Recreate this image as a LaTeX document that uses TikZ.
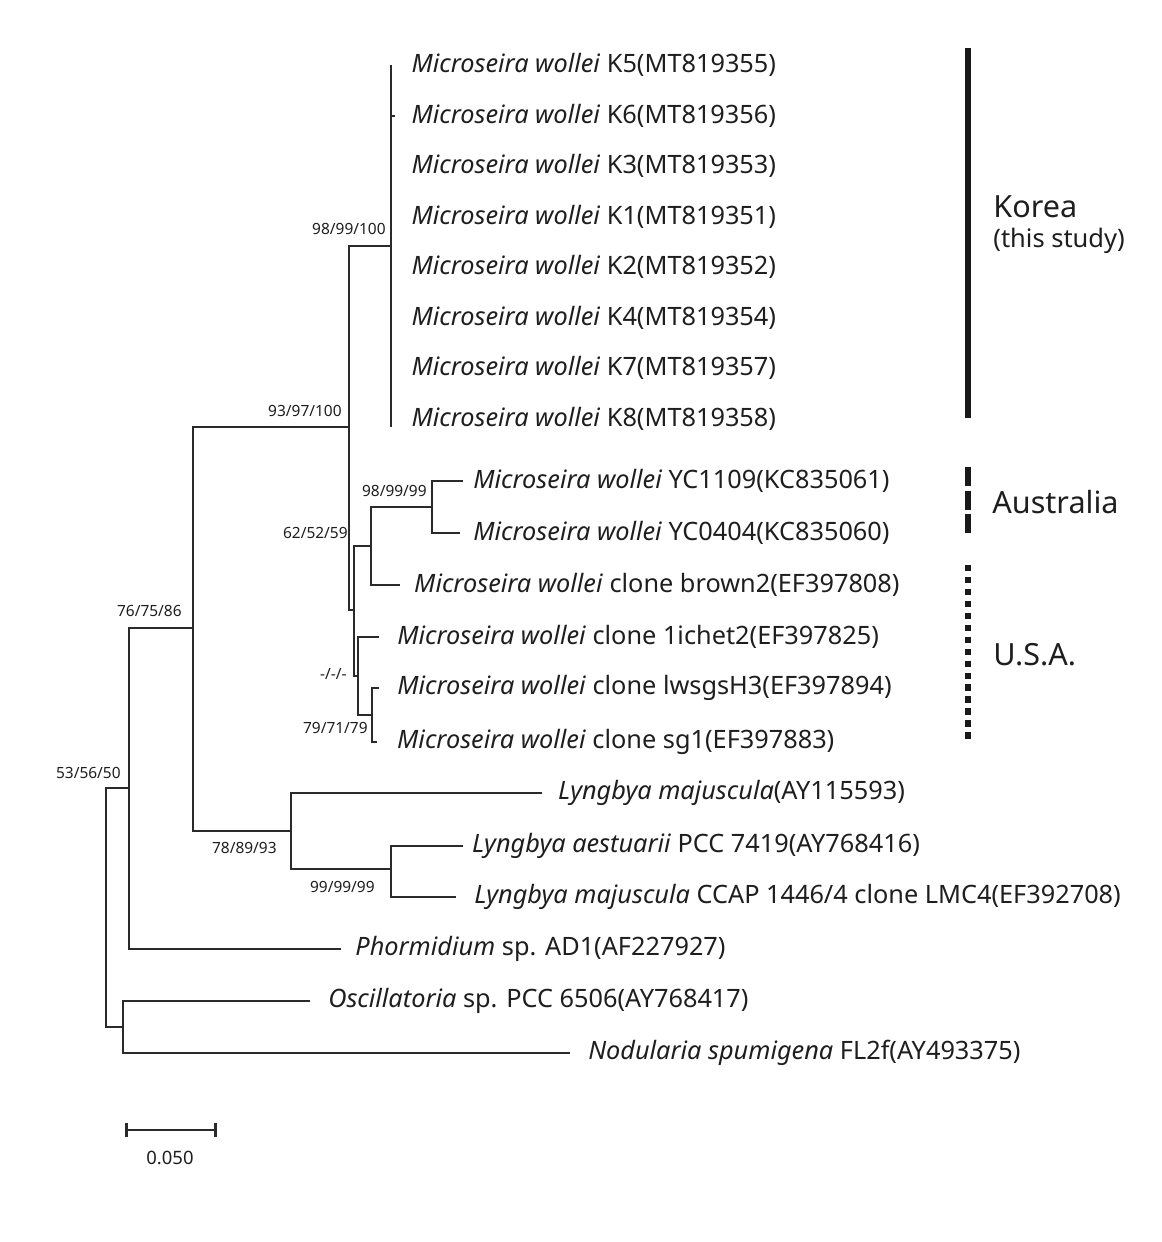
\documentclass[tikz,border=0pt]{standalone}
\usepackage{fontspec}
\setmainfont{Noto Sans}
\usetikzlibrary{arrows.meta, positioning}
\definecolor{treeline}{HTML}{2A2A2A}
\definecolor{treetext}{HTML}{1E1E1E}

\begin{document}
\begin{tikzpicture}[
    x=0.02cm, y=-0.02cm,
    branch/.style={draw=treeline, line width=1.6pt},
    taxon/.style={anchor=west, inner xsep=#1, inner ysep=0pt, text=treetext, font=\fontsize{14.4}{17}\selectfont},
    taxon/.default=7pt,
    boot/.style={anchor=east, inner sep=0pt, text=treetext, font=\fontsize{8.8}{10}\selectfont},
    region/.style={anchor=west, inner sep=0pt, text=treetext, font=\fontsize{17.4}{20}\selectfont},
    groupbar/.style={draw=black!90, line width=3.4pt}
]
\useasboundingbox (0,0) rectangle (1162,1242);

% Internal nodes
\coordinate (root) at (106,907);
\coordinate (n1) at (129,788);
\coordinate (n2) at (193,628);
\coordinate (n3) at (349,427);
\coordinate (kor) at (391,246);
\coordinate (korbot) at (391,427);
\coordinate (nb) at (354,610);
\coordinate (nc) at (371,546);
\coordinate (nf) at (432,507);
\coordinate (nd) at (358,676);
\coordinate (ne) at (372,715);
\coordinate (nl) at (291,831);
\coordinate (nm) at (391,869);
\coordinate (no) at (123,1027);

% Korea strains
\node[taxon=11.5pt] (k5) at (391,65) {\textit{Microseira wollei} K5(MT819355)};
\node[taxon=9.2pt] (k6) at (395,116) {\textit{Microseira wollei} K6(MT819356)};
\node[taxon=11.5pt] (k3) at (391,166) {\textit{Microseira wollei} K3(MT819353)};
\node[taxon=11.5pt] (k1) at (391,217) {\textit{Microseira wollei} K1(MT819351)};
\node[taxon=11.5pt] (k2) at (391,267) {\textit{Microseira wollei} K2(MT819352)};
\node[taxon=11.5pt] (k4) at (391,318) {\textit{Microseira wollei} K4(MT819354)};
\node[taxon=11.5pt] (k7) at (391,368) {\textit{Microseira wollei} K7(MT819357)};
\node[taxon=11.5pt] (k8) at (391,419) {\textit{Microseira wollei} K8(MT819358)};

% Australia and U.S.A. strains
\node[taxon=5.7pt] (yc1109) at (463,481) {\textit{Microseira wollei} YC1109(KC835061)};
\node[taxon=7.4pt] (yc0404) at (460,533) {\textit{Microseira wollei} YC0404(KC835060)};
\node[taxon=7.9pt] (brown2) at (400,585) {\textit{Microseira wollei} clone brown2(EF397808)};
\node[taxon=10.2pt] (ichet) at (379,637) {\textit{Microseira wollei} clone 1ichet2(EF397825)};
\node[taxon=10.2pt] (lwsgs) at (379,688) {\textit{Microseira wollei} clone lwsgsH3(EF397894)};
\node[taxon=11.3pt] (sg1) at (377,742) {\textit{Microseira wollei} clone sg1(EF397883)};

% Outgroups
\node[taxon=9pt] (lmaj) at (542,793) {\textit{Lyngbya majuscula}(AY115593)};
\node[taxon=5pt] (laes) at (463,846) {\textit{Lyngbya aestuarii} PCC 7419(AY768416)};
\node[taxon=10.2pt] (lmc4) at (456,897) {\textit{Lyngbya majuscula} CCAP 1446/4 clone LMC4(EF392708)};
\node[taxon=8pt] (phor) at (341,949) {\textit{Phormidium} sp. AD1(AF227927)};
\node[taxon=10.2pt] (osc) at (310,1001) {\textit{Oscillatoria} sp. PCC 6506(AY768417)};
\node[taxon=10.2pt] (nod) at (570,1053) {\textit{Nodularia spumigena} FL2f(AY493375)};

% Branches
\draw[branch] (root) |- (n1);
\draw[branch] (root) |- (no);
\draw[branch] (n1) |- (n2);
\draw[branch] (n1) |- (phor.west);
\draw[branch] (no) |- (osc.west);
\draw[branch] (no) |- (nod.west);
\draw[branch] (n2) |- (n3);
\draw[branch] (n2) |- (nl);
\draw[branch] (nl) |- (lmaj.west);
\draw[branch] (nl) |- (nm);
\draw[branch] (nm) |- (laes.west);
\draw[branch] (nm) |- (lmc4.west);
\draw[branch] (n3) |- (kor);
\draw[branch] (n3) |- (nb);
\draw[branch] (k5.west) -- (korbot);
\draw[branch] (kor) |- (k6.west);
\draw[branch] (nb) |- (nc);
\draw[branch] (nb) |- (nd);
\draw[branch] (nc) |- (nf);
\draw[branch] (nc) |- (brown2.west);
\draw[branch] (nf) |- (yc1109.west);
\draw[branch] (nf) |- (yc0404.west);
\draw[branch] (nd) |- (ichet.west);
\draw[branch] (nd) |- (ne);
\draw[branch] (ne) |- (lwsgs.west);
\draw[branch] (ne) |- (sg1.west);

% Bootstrap values
\node[boot] (bkor) at (386,229) {98/99/100};
\node[boot] (bn3) at (342,411) {93/97/100};
\node[boot] (bn2) at (182,611) {76/75/86};
\node[boot] (bn1) at (121,773) {53/56/50};
\node[boot] (bnb) at (348,533) {62/52/59};
\node[boot] (bnf) at (427,491) {98/99/99};
\node[boot] (bnd) at (347,674) {-/-/-};
\node[boot] (bne) at (368,728) {79/71/79};
\node[boot] (bnl) at (277,848) {78/89/93};
\node[boot] (bnm) at (375,887) {99/99/99};

% Geographic groups
\draw[groupbar] (968,48) -- (968,418);
\draw[groupbar, dash pattern=on 10.8pt off 2.6pt] (968,467) -- (968,533);
\draw[groupbar, line width=3pt, dash pattern=on 3.6pt off 3.2pt] (968,565) -- (968,740);
\node[region] (korea) at (993,207) {Korea};
\node[region, font=\fontsize{14.5}{17}\selectfont] (study) at (993,241) {(this study)};
\node[region] (aus) at (992,502) {Australia};
\node[region] (usa) at (993,655) {U.S.A.};

% Scale bar
\coordinate (sbl) at (125,1130);
\coordinate (sbr) at (217,1130);
\draw[branch, {Bar[width=8pt]}-{Bar[width=8pt]}] (sbl) -- (sbr);
\node[text=treetext, font=\fontsize{10.5}{12}\selectfont] (sblab) at (170,1158) {0.050};

\end{tikzpicture}
\end{document}
